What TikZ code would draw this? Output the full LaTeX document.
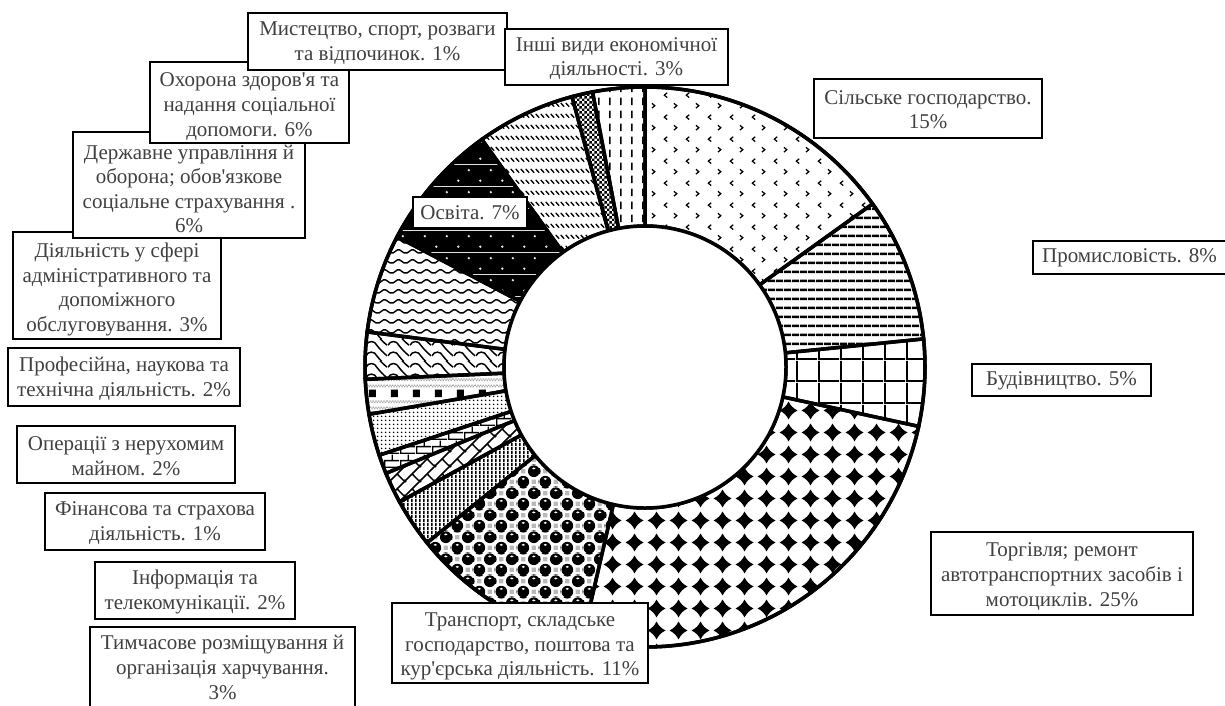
\documentclass[tikz,border=0pt]{standalone}
\usepackage{fontspec}
\newfontfamily\lbs{Liberation Serif}
\usetikzlibrary{patterns,calc}
\definecolor{txt}{RGB}{64,64,64}

% ---------- patterns ----------
\pgfdeclarepatternformonly{agri}{\pgfpointorigin}{\pgfpoint{22pt}{22pt}}{\pgfpoint{22pt}{22pt}}{%
  \pgfsetlinewidth{1.3pt}%
  \pgfpathmoveto{\pgfpoint{7.5pt}{19pt}}\pgfpathlineto{\pgfpoint{4.5pt}{16.5pt}}\pgfpathlineto{\pgfpoint{7.5pt}{14pt}}%
  \pgfpathmoveto{\pgfpoint{14.5pt}{8pt}}\pgfpathlineto{\pgfpoint{17.5pt}{5.5pt}}\pgfpathlineto{\pgfpoint{14.5pt}{3pt}}%
  \pgfusepath{stroke}}
\pgfdeclarepatternformonly{hl}{\pgfpointorigin}{\pgfpoint{8pt}{8.5pt}}{\pgfpoint{8pt}{8.5pt}}{%
  \pgfpathrectangle{\pgfpoint{0pt}{3pt}}{\pgfpoint{8pt}{2.6pt}}\pgfusepath{fill}}
\pgfdeclarepatternformonly{grd}{\pgfpointorigin}{\pgfpoint{21.5pt}{21.5pt}}{\pgfpoint{21.5pt}{21.5pt}}{%
  \pgfpathrectangle{\pgfpoint{0pt}{0pt}}{\pgfpoint{2pt}{21.5pt}}%
  \pgfpathrectangle{\pgfpoint{0pt}{0pt}}{\pgfpoint{21.5pt}{2pt}}\pgfusepath{fill}}
\pgfdeclarepatternformonly{dia}{\pgfpointorigin}{\pgfpoint{21.5pt}{21.5pt}}{\pgfpoint{21.5pt}{21.5pt}}{%
  \pgfpathmoveto{\pgfpoint{10.75pt}{1.6pt}}%
  \pgfpathcurveto{\pgfpoint{12.8pt}{5.8pt}}{\pgfpoint{15.7pt}{8.7pt}}{\pgfpoint{19.9pt}{10.75pt}}%
  \pgfpathcurveto{\pgfpoint{15.7pt}{12.8pt}}{\pgfpoint{12.8pt}{15.7pt}}{\pgfpoint{10.75pt}{19.9pt}}%
  \pgfpathcurveto{\pgfpoint{8.7pt}{15.7pt}}{\pgfpoint{5.8pt}{12.8pt}}{\pgfpoint{1.6pt}{10.75pt}}%
  \pgfpathcurveto{\pgfpoint{5.8pt}{8.7pt}}{\pgfpoint{8.7pt}{5.8pt}}{\pgfpoint{10.75pt}{1.6pt}}%
  \pgfpathclose
  \pgfusepath{fill}}
\pgfdeclarepatterninherentlycolored{balls}{\pgfpointorigin}{\pgfpoint{21.5pt}{21.5pt}}{\pgfpoint{21.5pt}{21.5pt}}{%
  \pgfsetfillcolor{gray!55}%
  \pgfpathrectangle{\pgfpoint{14pt}{3.3pt}}{\pgfpoint{4.2pt}{4.2pt}}%
  \pgfpathrectangle{\pgfpoint{3.3pt}{14pt}}{\pgfpoint{4.2pt}{4.2pt}}%
  \pgfusepath{fill}%
  \pgfsetfillcolor{black}%
  \pgfpathcircle{\pgfpoint{5.4pt}{5.4pt}}{6pt}%
  \pgfpathcircle{\pgfpoint{16.1pt}{16.1pt}}{6pt}%
  \pgfpathcircle{\pgfpoint{-5.35pt}{16.1pt}}{6pt}%
  \pgfpathcircle{\pgfpoint{16.1pt}{-5.35pt}}{6pt}%
  \pgfpathcircle{\pgfpoint{26.85pt}{5.4pt}}{6pt}%
  \pgfpathcircle{\pgfpoint{5.4pt}{26.85pt}}{6pt}%
  \pgfusepath{fill}%
  \pgfsetfillcolor{white}%
  \pgfpathellipse{\pgfpoint{5.4pt}{8.3pt}}{\pgfpoint{1.8pt}{0pt}}{\pgfpoint{0pt}{1pt}}%
  \pgfpathellipse{\pgfpoint{16.1pt}{19pt}}{\pgfpoint{1.8pt}{0pt}}{\pgfpoint{0pt}{1pt}}%
  \pgfusepath{fill}}
\pgfdeclarepatternformonly{vl}{\pgfpointorigin}{\pgfpoint{4.2pt}{4pt}}{\pgfpoint{4.2pt}{4pt}}{%
  \pgfpathrectangle{\pgfpoint{0pt}{0pt}}{\pgfpoint{1.8pt}{4pt}}\pgfusepath{fill}}
\pgfdeclarepatternformonly{dbrick}{\pgfpointorigin}{\pgfpoint{15pt}{15pt}}{\pgfpoint{15pt}{15pt}}{%
  \pgfsetlinewidth{1.6pt}%
  \pgfpathmoveto{\pgfpoint{-2pt}{-2pt}}\pgfpathlineto{\pgfpoint{17pt}{17pt}}%
  \pgfpathmoveto{\pgfpoint{-2pt}{13pt}}\pgfpathlineto{\pgfpoint{17pt}{32pt}}%
  \pgfpathmoveto{\pgfpoint{13pt}{-2pt}}\pgfpathlineto{\pgfpoint{32pt}{17pt}}%
  \pgfpathmoveto{\pgfpoint{7.5pt}{7.5pt}}\pgfpathlineto{\pgfpoint{15.5pt}{-0.5pt}}%
  \pgfusepath{stroke}}
\pgfdeclarepatternformonly{hbrick}{\pgfpointorigin}{\pgfpoint{16pt}{14pt}}{\pgfpoint{16pt}{14pt}}{%
  \pgfpathrectangle{\pgfpoint{0pt}{0pt}}{\pgfpoint{16pt}{1.5pt}}%
  \pgfpathrectangle{\pgfpoint{0pt}{7pt}}{\pgfpoint{16pt}{1.5pt}}%
  \pgfpathrectangle{\pgfpoint{0pt}{0pt}}{\pgfpoint{1.5pt}{7pt}}%
  \pgfpathrectangle{\pgfpoint{8pt}{7pt}}{\pgfpoint{1.5pt}{7pt}}%
  \pgfusepath{fill}}
\pgfdeclarepatternformonly{dgrid}{\pgfpointorigin}{\pgfpoint{4pt}{4pt}}{\pgfpoint{4pt}{4pt}}{%
  \pgfpathcircle{\pgfpoint{2pt}{2pt}}{1.05pt}\pgfusepath{fill}}
\pgfdeclarepatterninherentlycolored{prof}{\pgfpointorigin}{\pgfpoint{21.5pt}{21.5pt}}{\pgfpoint{21.5pt}{21.5pt}}{%
  \pgfsetfillcolor{black}%
  \pgfpathrectangle{\pgfpoint{3pt}{7pt}}{\pgfpoint{7pt}{7.5pt}}\pgfusepath{fill}%
  \pgfsetfillcolor{gray!70}%
  \foreach \i in {0,...,7}{%
    \pgfpathrectangle{\pgfpoint{\i*2.7pt}{1pt}}{\pgfpoint{1.35pt}{1.35pt}}%
    \pgfpathrectangle{\pgfpoint{\i*2.7pt+1.35pt}{2.35pt}}{\pgfpoint{1.35pt}{1.35pt}}%
    \pgfpathrectangle{\pgfpoint{\i*2.7pt}{17pt}}{\pgfpoint{1.35pt}{1.35pt}}%
    \pgfpathrectangle{\pgfpoint{\i*2.7pt+1.35pt}{18.35pt}}{\pgfpoint{1.35pt}{1.35pt}}%
    \pgfusepath{fill}}}
\pgfdeclarepatternformonly{scal}{\pgfpointorigin}{\pgfpoint{21.5pt}{21.5pt}}{\pgfpoint{21.5pt}{21.5pt}}{%
  \pgfsetlinewidth{1.5pt}%
  \foreach \yy in {-5.5,5.25,16,26.75}{%
    \pgfpathmoveto{\pgfpoint{0pt}{\yy pt}}%
    \pgfpathcurveto{\pgfpoint{2pt}{\yy pt+5pt}}{\pgfpoint{9pt}{\yy pt+5pt}}{\pgfpoint{11pt}{\yy pt}}%
    \pgfpathcurveto{\pgfpoint{14pt}{\yy pt-4pt}}{\pgfpoint{18pt}{\yy pt-8pt}}{\pgfpoint{21.5pt}{\yy pt-10.75pt}}%
    \pgfusepath{stroke}}}
\pgfdeclarepatternformonly{wav}{\pgfpointorigin}{\pgfpoint{14pt}{10pt}}{\pgfpoint{14pt}{10pt}}{%
  \pgfsetlinewidth{1.5pt}\pgfsetcornersarced{\pgfpoint{1.5pt}{1.5pt}}%
  \pgfpathmoveto{\pgfpoint{-7pt}{7.5pt}}\pgfpathlineto{\pgfpoint{0pt}{2.5pt}}%
  \pgfpathlineto{\pgfpoint{7pt}{7.5pt}}\pgfpathlineto{\pgfpoint{14pt}{2.5pt}}%
  \pgfpathlineto{\pgfpoint{21pt}{7.5pt}}%
  \pgfusepath{stroke}}
\pgfdeclarepatterninherentlycolored{edu}{\pgfpointorigin}{\pgfpoint{21.5pt}{21.5pt}}{\pgfpoint{21.5pt}{21.5pt}}{%
  \pgfsetfillcolor{black}\pgfpathrectangle{\pgfpointorigin}{\pgfpoint{21.5pt}{21.5pt}}\pgfusepath{fill}%
  \pgfsetfillcolor{gray!20}%
  \pgfpathcircle{\pgfpoint{5.4pt}{5.4pt}}{1.3pt}\pgfpathcircle{\pgfpoint{16.1pt}{16.1pt}}{1.3pt}%
  \pgfusepath{fill}}
\pgfdeclarepatternformonly{ddash}{\pgfpointorigin}{\pgfpoint{5.4pt}{10.75pt}}{\pgfpoint{5.4pt}{10.75pt}}{%
  \pgfsetlinewidth{1.4pt}\pgfpathmoveto{\pgfpoint{0.8pt}{8.2pt}}\pgfpathlineto{\pgfpoint{4.6pt}{4.4pt}}\pgfusepath{stroke}}
\pgfdeclarepatternformonly{chk}{\pgfpointorigin}{\pgfpoint{5.4pt}{5.4pt}}{\pgfpoint{5.4pt}{5.4pt}}{%
  \pgfpathrectangle{\pgfpointorigin}{\pgfpoint{2.7pt}{2.7pt}}%
  \pgfpathrectangle{\pgfpoint{2.7pt}{2.7pt}}{\pgfpoint{2.7pt}{2.7pt}}\pgfusepath{fill}}
\pgfdeclarepatternformonly{vdash}{\pgfpointorigin}{\pgfpoint{11pt}{13pt}}{\pgfpoint{11pt}{13pt}}{%
  \pgfpathrectangle{\pgfpoint{4.5pt}{2pt}}{\pgfpoint{1.6pt}{8pt}}\pgfusepath{fill}}

\def\Ro{280}
\def\Ri{141}
\newcommand\seg[3]{\path[segstyle,pattern=#3] ($(C)+(#1:\Ro)$) arc[start angle=#1,end angle=#2,radius=\Ro]
  -- ($(C)+(#2:\Ri)$) arc[start angle=#2,end angle=#1,radius=\Ri] -- cycle;}
% label: name, x, y, width, height, downward text shift, text
\newcommand\lab[7]{%
  \node[lblbox,minimum width=#4,minimum height=#5] (#1) at (#2,#3) {};
  \node[lbltxt] (#1-t) at ([yshift=-#6pt]#1.center) {#7};}

\begin{document}
\begin{tikzpicture}[x=1pt,y=-1pt,
  segstyle/.style={draw=black,line width=3.5pt},
  lblbox/.style={draw=black,line width=1.8pt,fill=white,inner sep=0pt},
  lbltxt/.style={text=txt,align=center,inner sep=0pt,font=\lbs\fontsize{21}{24.6}\selectfont}]
\fill[white] (0,0) rectangle (1225,705);
\useasboundingbox (0,0) rectangle (1225,705);
\coordinate (C) at (645,367);

\seg{-90}{-35.64}{agri}
\seg{-35.64}{-5.76}{hl}
\seg{-5.76}{12.24}{grd}
\seg{12.24}{102.96}{dia}
\seg{102.96}{141.12}{balls}
\seg{141.12}{151.2}{vl}
\seg{151.2}{157.68}{dbrick}
\seg{157.68}{161.64}{hbrick}
\seg{161.64}{170.28}{dgrid}
\seg{170.28}{177.48}{prof}
\seg{177.48}{187.2}{scal}
\seg{187.2}{207.72}{wav}
\seg{207.72}{234.36}{edu}
\seg{234.36}{254.88}{ddash}
\seg{254.88}{259.2}{chk}
\seg{259.2}{270}{vdash}
\draw[line width=3.5pt,fill=white] (C) circle[radius=\Ri];
\draw[line width=3.5pt] (C) circle[radius=\Ro];

% labels in series order (later ones lie on top)
\lab{silh}{928}{108.5}{228}{59}{1}{Сільське господарство.\\15\%}
\lab{prom}{1129.5}{257.5}{193}{33}{0.5}{Промисловість. 8\%}
\lab{bud}{1061.5}{380}{179}{32}{0.5}{Будівництво. 5\%}
\lab{torg}{1062}{573.5}{262}{83}{3}{Торгівля; ремонт\\автотранспортних засобів і\\мотоциклів. 25\%}
\lab{trans}{520}{643}{256}{80}{3.5}{Транспорт, складське\\господарство, поштова та\\кур'єрська діяльність. 11\%}
\lab{tymch}{222.5}{667.5}{265}{81}{0}{Тимчасове розміщування й\\організація харчування.\\3\%}
\lab{inf}{195}{590.5}{200}{57}{1.5}{Інформація та\\телекомунікації. 2\%}
\lab{fin}{155}{521.5}{220}{57}{1.5}{Фінансова та страхова\\діяльність. 1\%}
\lab{oper}{126}{454.5}{218}{57}{1.5}{Операції з нерухомим\\майном. 2\%}
\lab{prof}{124}{377}{232}{58}{1.5}{Професійна, наукова та\\технічна діяльність. 2\%}
\lab{admin}{117}{285.5}{208}{107}{4}{Діяльність у сфері\\адміністративного та\\допоміжного\\обслуговування. 3\%}
\lab{derzh}{189}{185}{232}{106}{4}{Державне управління й\\оборона; обов'язкове\\соціальне страхування .\\6\%}
\lab{osv}{470}{212.5}{114}{31}{0.5}{Освіта. 7\%}
\lab{okh}{249.5}{102.5}{199}{81}{4}{Охорона здоров'я та\\надання соціальної\\допомоги. 6\%}
\lab{mys}{377.5}{41.5}{259}{57}{1.5}{Мистецтво, спорт, розваги\\та відпочинок. 1\%}
\lab{inshi}{616.5}{57}{223}{56}{1.5}{Інші види економічної\\діяльності. 3\%}
\end{tikzpicture}
\end{document}
